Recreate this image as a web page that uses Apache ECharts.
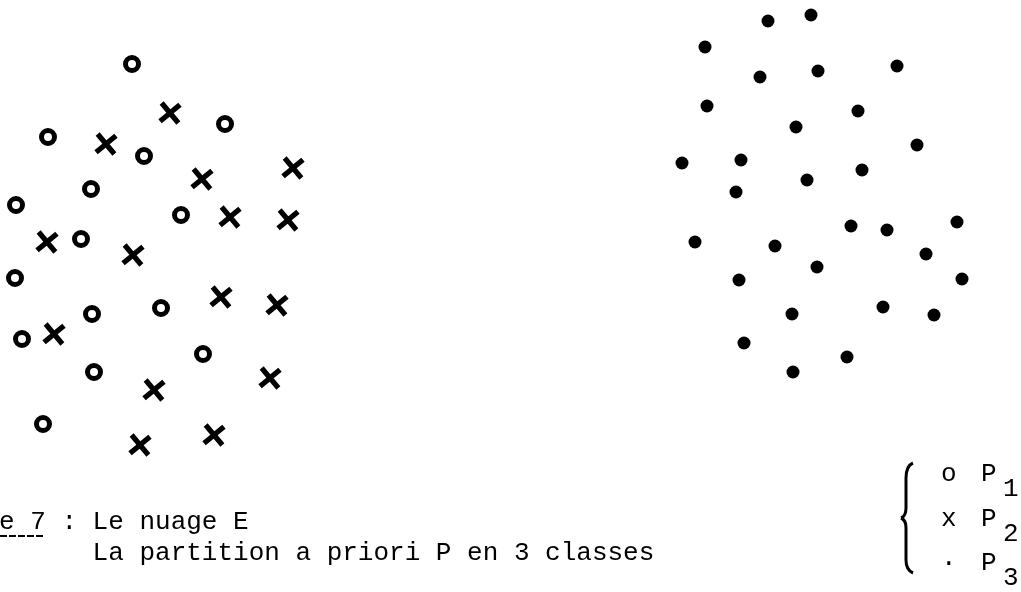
<!DOCTYPE html>
<html>
<head>
<meta charset="utf-8">
<title>Le nuage E — partition a priori P</title>
<script src="https://cdn.jsdelivr.net/npm/echarts@6/dist/echarts.min.js"></script>
<style>
  html, body { margin: 0; padding: 0; background: #ffffff; }
  #chart { width: 1021px; height: 592px; }
</style>
</head>
<body>
<div id="chart"></div>
<script>
// Class P1 (o): positions in the plane, [x, y]
const p1Points = [
  [13.2, 52.6], [4.8, 45.3], [22.5, 46.6], [14.4, 43.4], [9.1, 40.1],
  [1.6, 38.5], [18.1, 37.5], [8.1, 35.1], [1.5, 31.2], [9.2, 27.6],
  [16.1, 28.2], [2.2, 25.1], [20.3, 23.6], [9.4, 21.8], [4.3, 16.6]
];

// Class P2 (x)
const p2Points = [
  [17.0, 47.7], [10.6, 44.6], [20.2, 41.1], [29.3, 42.2], [23.0, 37.3],
  [28.8, 37.0], [4.7, 34.8], [13.3, 33.5], [22.1, 29.3], [27.7, 28.5],
  [5.4, 25.6], [15.4, 20.0], [27.0, 21.2], [14.0, 14.5], [21.4, 15.5]
];

// Class P3 (.)
const p3Points = [
  [76.8, 56.9], [81.1, 57.5], [70.5, 54.3], [76.0, 51.3], [81.8, 51.9],
  [89.7, 52.4], [70.7, 48.4], [85.8, 47.9], [79.6, 46.3], [91.7, 44.5],
  [68.2, 42.7], [74.1, 43.0], [86.2, 42.0], [80.7, 41.0], [73.6, 39.8],
  [85.1, 36.4], [88.7, 36.0], [95.7, 36.8], [69.5, 34.8], [77.5, 34.4],
  [92.6, 33.6], [81.7, 32.3], [73.9, 31.0], [96.2, 31.1], [79.2, 27.6],
  [88.3, 28.3], [93.4, 27.5], [74.4, 24.7], [84.7, 23.3], [79.3, 21.8]
];

// Class names, the typed mark for each class, and the class index
const classNames = ['P1', 'P2', 'P3'];
const classMarks = ['o', 'x', '·'];
const classIndex = ['1', '2', '3'];

// Caption lines
const captionLines = ['e 7 : Le nuage E', '      La partition a priori P en 3 classes'];

const INK = '#000000';
const MONO = '"Liberation Mono", "DejaVu Sans Mono", monospace';

const chart = echarts.init(document.getElementById('chart'), null, { renderer: 'canvas' });

const tokenBase = { fontFamily: MONO, fontSize: 26, lineHeight: 26, color: INK, verticalAlign: 'top' };

// brace grouping the class key, built from short curve and line pieces
const braceStyle = { stroke: INK, lineWidth: 3, fill: null };
const brace = [
  { type: 'bezierCurve', shape: { x1: 913, y1: 463, cpx1: 906, cpy1: 466, x2: 906, y2: 478 } },
  { type: 'line', shape: { x1: 906, y1: 478, x2: 906, y2: 508 } },
  { type: 'bezierCurve', shape: { x1: 906, y1: 508, cpx1: 906, cpy1: 516, x2: 901, y2: 518 } },
  { type: 'bezierCurve', shape: { x1: 901, y1: 518, cpx1: 906, cpy1: 520, x2: 906, y2: 528 } },
  { type: 'line', shape: { x1: 906, y1: 528, x2: 906, y2: 560 } },
  { type: 'bezierCurve', shape: { x1: 906, y1: 560, cpx1: 906, cpy1: 570, x2: 913, y2: 573 } }
].map(function (el) { el.style = braceStyle; el.silent = true; return el; });

chart.setOption({
  backgroundColor: '#ffffff',
  animation: false,
  grid: { left: 0, top: 0, width: 1000, height: 590 },
  xAxis: { type: 'value', min: 0, max: 100, show: false },
  yAxis: { type: 'value', min: 0, max: 59, show: false },
  legend: {
    data: classNames,
    orient: 'vertical',
    left: 935,
    top: 453,
    padding: 0,
    itemGap: -4,
    itemWidth: 0,
    itemHeight: 41,
    icon: 'rect',
    itemStyle: { opacity: 0 },
    selectedMode: false,
    formatter: function (name) {
      const i = classNames.indexOf(name);
      return '{m|' + classMarks[i] + '}{p|P}{s|' + classIndex[i] + '}';
    },
    textStyle: {
      color: INK,
      rich: {
        m: Object.assign({}, tokenBase, { width: 40 }),
        p: Object.assign({}, tokenBase, { width: 22 }),
        s: Object.assign({}, tokenBase, { padding: [15, 0, 0, 0] })
      }
    }
  },
  series: [
    {
      name: 'P1',
      type: 'scatter',
      data: p1Points,
      symbol: 'circle',
      symbolSize: 13,
      itemStyle: { color: '#ffffff', borderColor: INK, borderWidth: 5, opacity: 1 },
      emphasis: { disabled: true }
    },
    {
      name: 'P2',
      type: 'scatter',
      data: p2Points,
      symbol: 'path://M4,0H6V4H10V6H6V10H4V6H0V4H4Z',
      symbolSize: 26,
      symbolRotate: 40,
      itemStyle: { color: INK, opacity: 1 },
      emphasis: { disabled: true }
    },
    {
      name: 'P3',
      type: 'scatter',
      data: p3Points,
      symbol: 'circle',
      symbolSize: 13,
      itemStyle: { color: INK, opacity: 1 },
      emphasis: { disabled: true }
    }
  ],
  graphic: [
    {
      type: 'text',
      x: -1,
      y: 507,
      silent: true,
      style: {
        text: captionLines.join('\n'),
        font: '26px ' + MONO,
        lineHeight: 31,
        verticalAlign: 'top',
        fill: INK
      }
    },
    {
      // typed underline under the figure number
      type: 'line',
      silent: true,
      shape: { x1: 0, y1: 536, x2: 45, y2: 536 },
      style: { stroke: INK, lineWidth: 2, lineDash: [7, 2] }
    }
  ].concat(brace)
});
</script>
</body>
</html>
